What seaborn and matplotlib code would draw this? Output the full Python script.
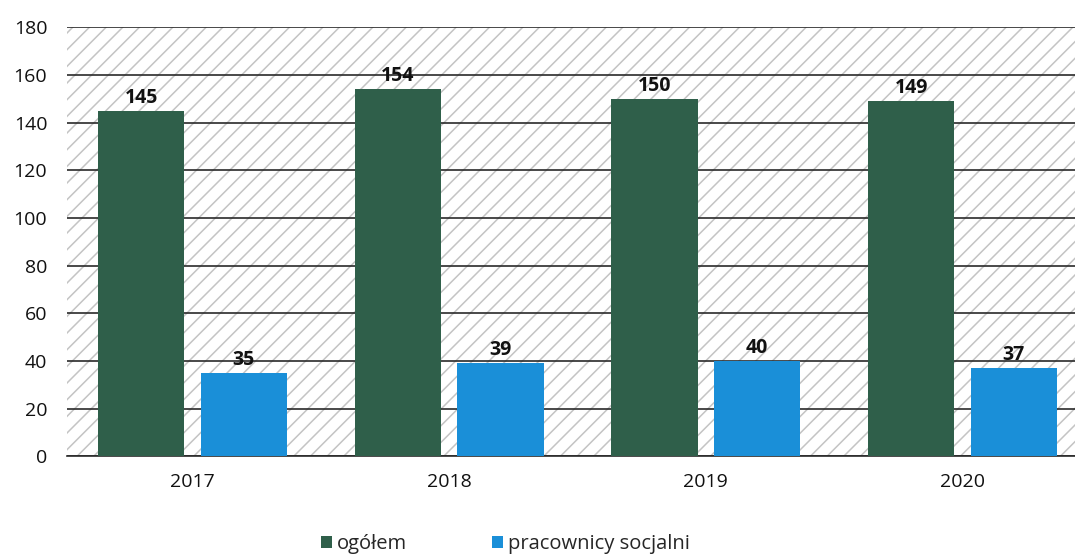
import matplotlib
matplotlib.use("Agg")
import matplotlib.pyplot as plt
import seaborn as sns
import pandas as pd
from matplotlib.patches import Rectangle

years = ["2017", "2018", "2019", "2020"]
ogolem = [145, 154, 150, 149]
pracownicy = [35, 39, 40, 37]
series_names = ["ogółem", "pracownicy socjalni"]
colors = ["#2f5f4a", "#1a8fd8"]

df = pd.DataFrame({
    "rok": years * 2,
    "wartosc": ogolem + pracownicy,
    "seria": [series_names[0]] * 4 + [series_names[1]] * 4,
})

sns.set_theme(style="white")
plt.rcParams["font.family"] = ["Open Sans", "DejaVu Sans"]
plt.rcParams["hatch.linewidth"] = 1.1
plt.rcParams["hatch.color"] = "#c4c4c4"

fig = plt.figure(figsize=(10.75, 5.55), dpi=100)
ax = fig.add_axes([0.062, 0.178, 0.96, 0.773])

ax.add_patch(Rectangle((0, 0), 1, 1, transform=ax.transAxes, facecolor="white",
                       edgecolor="#c4c4c4", hatch="//", linewidth=0, zorder=0))

sns.barplot(data=df, x="rok", y="wartosc", hue="seria", palette=colors,
            width=0.8, gap=0.16, ax=ax, zorder=3, saturation=1, linewidth=0)

ax.set_ylim(0, 180)
ax.set_yticks(range(0, 181, 20))
ax.set_xlim(-0.49, 3.53)
ax.yaxis.grid(True, color="#2a2a2a", linewidth=1.2, zorder=1)
ax.set_axisbelow(True)
for s in ["top", "right", "left"]:
    ax.spines[s].set_visible(False)
ax.spines["bottom"].set_color("#2a2a2a")
ax.spines["bottom"].set_linewidth(1.2)
ax.set_xlabel("")
ax.set_ylabel("")
ax.tick_params(axis="y", labelsize=14, length=0, pad=14, colors="#111111")
ax.tick_params(axis="x", labelsize=14, length=0, pad=12, colors="#111111")

for cont in ax.containers:
    ax.bar_label(cont, fmt="%d", fontsize=14, fontweight="bold", padding=2, color="#111111")

leg = ax.legend(loc="upper center", bbox_to_anchor=(0.425, -0.14), ncol=2, frameon=False,
                fontsize=14.5, handlelength=0.55, handleheight=0.55, handletextpad=0.25,
                columnspacing=4.2)

fig.savefig("out.png", dpi=100)
